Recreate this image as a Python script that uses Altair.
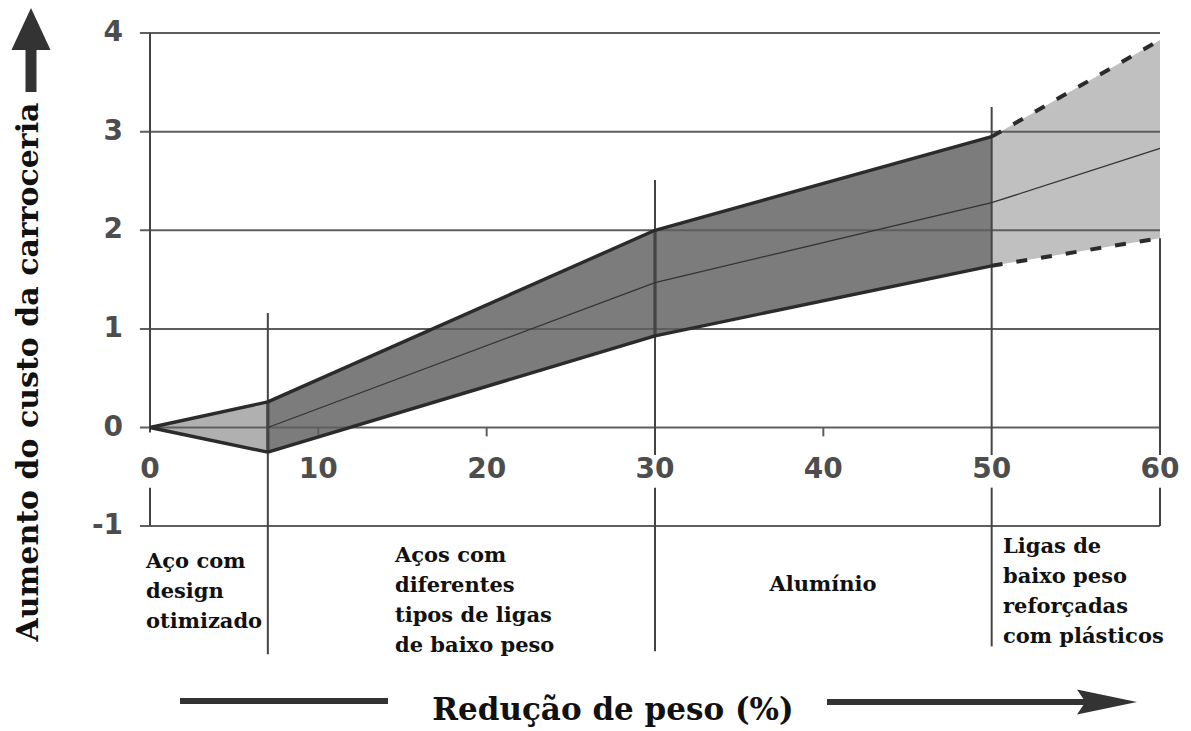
import altair as alt
import pandas as pd

# ---------------- values ----------------
seg_keys = ["s1", "s2", "s3", "s4"]
seg_x0 = [0, 7, 30, 50]
seg_x1 = [7, 30, 50, 60]
seg_up0 = [0.0, 0.26, 2.0, 2.95]
seg_up1 = [0.26, 2.0, 2.95, 3.93]
seg_lo0 = [0.0, -0.25, 0.93, 1.64]
seg_lo1 = [-0.25, 0.93, 1.64, 1.92]
seg_fill = ["#b0b0b0", "#7c7c7c", "#7c7c7c", "#c0c0c0"]

mid_x = [7, 30, 50, 60]
mid_y = [0.0, 1.47, 2.28, 2.83]

phase_x = [7, 30, 50]
phase_top = [1.16, 2.51, 3.25]
phase_bottom = [-2.3, -2.27, -2.22]

y_ticks = [4, 3, 2, 1, 0, -1]
x_ticks = [0, 10, 20, 30, 40, 50, 60]
minor_ticks = [10, 20, 40]

phase_labels = [
    "Aço com\ndesign\notimizado",
    "Aços com\ndiferentes\ntipos de ligas\nde baixo peso",
    "Alumínio",
    "Ligas de\nbaixo peso\nreforçadas\ncom plásticos",
]
y_title = "Aumento do custo da carroceria"
x_title = "Redução de peso (%)"

# ---------------- layout ----------------
W, H = 1191, 731
PX0, PX60 = 150.0, 1160.0      # pixel of x=0 and x=60
PY0, PYU = 427.5, 98.6         # pixel of y=0 and px per unit
XU = (PX60 - PX0) / 60.0
X_MIN, X_MAX = -PX0 / XU, 60 + (W - PX60) / XU
Y_MAX, Y_MIN = PY0 / PYU, (PY0 - H) / PYU

xs = alt.Scale(domain=[X_MIN, X_MAX], nice=False, zero=False)
ys = alt.Scale(domain=[Y_MIN, Y_MAX], nice=False, zero=False)

DARK = "#2b2b2b"
GRID = "#5e5e5e"
SERIF = "DejaVu Serif"
SANS = "DejaVu Sans"

# ---------------- tables ----------------
band_rows = []
for k, a, b, u0, u1, l0, l1 in zip(seg_keys, seg_x0, seg_x1, seg_up0, seg_up1, seg_lo0, seg_lo1):
    band_rows.append({"seg": k, "x": a, "up": u0, "lo": l0})
    band_rows.append({"seg": k, "x": b, "up": u1, "lo": l1})
bands = pd.DataFrame(band_rows)

solid_rows, dash_rows = [], []
for i, (k, a, b, u0, u1, l0, l1) in enumerate(zip(seg_keys, seg_x0, seg_x1, seg_up0, seg_up1, seg_lo0, seg_lo1)):
    target = dash_rows if i == len(seg_keys) - 1 else solid_rows
    target += [{"id": k + "u", "x": a, "y": u0}, {"id": k + "u", "x": b, "y": u1},
               {"id": k + "l", "x": a, "y": l0}, {"id": k + "l", "x": b, "y": l1}]
solid = pd.DataFrame(solid_rows)
dashed = pd.DataFrame(dash_rows)
mid = pd.DataFrame({"x": mid_x, "y": mid_y})

grid = pd.DataFrame({"y": y_ticks, "xa": -0.6, "xb": 60})

# vertical lines, broken where the x tick labels sit
GAP_TOP, GAP_BOT = -0.28, -0.61
vrows = []
vrows += [{"x": 0, "y1": 4, "y2": -0.05, "w": 2}, {"x": 0, "y1": GAP_BOT, "y2": -1, "w": 2}]
vrows += [{"x": 60, "y1": seg_lo1[-1], "y2": GAP_TOP, "w": 2}, {"x": 60, "y1": GAP_BOT, "y2": -1, "w": 2}]
for px, t, bt in zip(phase_x, phase_top, phase_bottom):
    if px in x_ticks:
        vrows += [{"x": px, "y1": t, "y2": GAP_TOP, "w": 2}, {"x": px, "y1": GAP_BOT, "y2": bt, "w": 2}]
    else:
        vrows += [{"x": px, "y1": t, "y2": bt, "w": 2}]
# heavier edges inside the band
vrows.append({"x": seg_x0[1], "y1": seg_up0[1], "y2": seg_lo0[1], "w": 3.2})
vrows.append({"x": seg_x0[2], "y1": seg_up0[2], "y2": seg_lo0[2], "w": 3.2})
vlines = pd.DataFrame(vrows)

minor = pd.DataFrame({"x": minor_ticks, "ya": 0, "yb": -0.09})
ytl = pd.DataFrame({"v": y_ticks, "t": [str(v) for v in y_ticks]})
xtl = pd.DataFrame({"v": x_ticks, "t": [str(v) for v in x_ticks]})
one = pd.DataFrame({"k": [0]})

X = lambda f: alt.X(f, type="quantitative", scale=xs, axis=None)
Y = lambda f: alt.Y(f, type="quantitative", scale=ys, axis=None)

# ---------------- layers ----------------
area = alt.Chart(bands).mark_area(opacity=1).encode(
    x=X("x"), y=Y("up"), y2="lo",
    color=alt.Color("seg:N", scale=alt.Scale(domain=seg_keys, range=seg_fill), legend=None),
    detail="seg:N",
)

grid_l = alt.Chart(grid).mark_rule(color=GRID, strokeWidth=2).encode(
    x=X("xa"), x2="xb", y=Y("y"))

v_l = alt.Chart(vlines).mark_rule(color="#444444").encode(
    x=X("x"), y=Y("y1"), y2="y2", strokeWidth=alt.StrokeWidth("w:Q", scale=None))

minor_l = alt.Chart(minor).mark_rule(color=GRID, strokeWidth=2).encode(
    x=X("x"), y=Y("ya"), y2="yb")

mid_l = alt.Chart(mid).mark_line(color="#333333", strokeWidth=1.3).encode(x=X("x"), y=Y("y"))

solid_l = alt.Chart(solid).mark_line(color=DARK, strokeWidth=3.4, strokeJoin="round").encode(
    x=X("x"), y=Y("y"), detail="id:N")

dash_l = alt.Chart(dashed).mark_line(color=DARK, strokeWidth=4, strokeDash=[11, 14]).encode(
    x=X("x"), y=Y("y"), detail="id:N")

ytext = alt.Chart(ytl).mark_text(font=SANS, fontWeight="bold", fontSize=28, color="#4d4d4d",
                                 align="right", baseline="middle").encode(
    x=alt.value(PX0 - 27), y=Y("v"), text="t:N")

xtext = alt.Chart(xtl).mark_text(font=SANS, fontWeight="bold", fontSize=28, color="#4d4d4d",
                                 align="center", baseline="middle").encode(
    x=X("v"), y=alt.value(470), text="t:N")

label_pos = [(146, 551, "left", "top"), (395, 545, "left", "top"),
             (823, 585, "center", "middle"), (1003, 536, "left", "top")]
labels = []
for txt, (px, py, al, bl) in zip(phase_labels, label_pos):
    labels.append(alt.Chart(one).mark_text(font=SERIF, fontWeight="bold", fontSize=21, color="#111111",
                                            align=al, baseline=bl, lineBreak="\n", lineHeight=30).encode(
        x=alt.value(px), y=alt.value(py), text=alt.value(txt)))

ytitle = alt.Chart(one).mark_text(font=SERIF, fontWeight="bold", fontSize=30, color="#111111",
                                  angle=270, align="center", baseline="middle").encode(
    x=alt.value(29), y=alt.value(372), text=alt.value(y_title))
xtitle = alt.Chart(one).mark_text(font=SERIF, fontWeight="bold", fontSize=31, color="#111111",
                                  align="center", baseline="middle").encode(
    x=alt.value(613), y=alt.value(711), text=alt.value(x_title))

ARROW = "#333333"
y_shaft = alt.Chart(one).mark_rule(color=ARROW, strokeWidth=11).encode(
    x=alt.value(31), y=alt.value(46), y2=alt.value(92))
y_head = alt.Chart(one).mark_point(shape="M0,-1L0.93,1L-0.93,1Z", size=1764, filled=True,
                                   color=ARROW, opacity=1).encode(x=alt.value(31), y=alt.value(29))
l_shaft = alt.Chart(one).mark_rule(color=ARROW, strokeWidth=6).encode(
    x=alt.value(180), x2=alt.value(388), y=alt.value(701))
r_shaft = alt.Chart(one).mark_rule(color=ARROW, strokeWidth=6).encode(
    x=alt.value(827), x2=alt.value(1095), y=alt.value(702))
r_head = alt.Chart(one).mark_point(shape="M-1,-0.42L1,0L-1,0.42L-0.72,0Z", size=3600, filled=True,
                                   color=ARROW, opacity=1).encode(x=alt.value(1107), y=alt.value(702))

chart = alt.layer(
    area, grid_l, minor_l, v_l, mid_l, solid_l, dash_l,
    ytext, xtext, *labels, ytitle, xtitle, y_shaft, y_head, l_shaft, r_shaft, r_head,
).properties(
    width=W, height=H, padding=0, autosize=alt.AutoSizeParams(type="none"), background="white",
).configure_view(stroke=None)

chart.save("out.html", embed_options={"renderer": "svg", "actions": False})
